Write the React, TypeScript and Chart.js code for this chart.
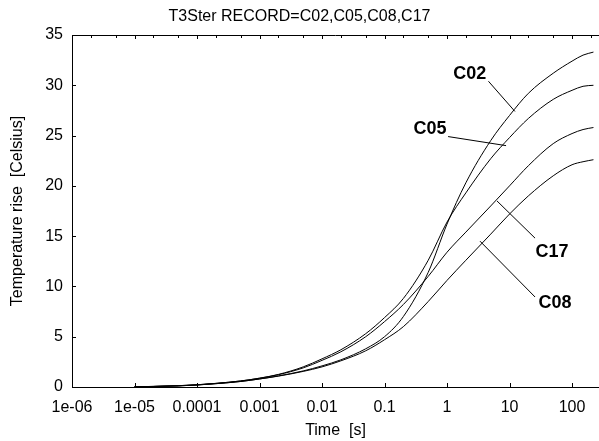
import React, { useEffect, useRef } from "react";
import { Chart, registerables } from "chart.js";

Chart.register(...registerables);

const FONT = '"Liberation Sans", Arial, sans-serif';

const times = [
  1e-5, 2e-5, 5e-5, 1e-4, 2e-4, 5e-4, 1e-3, 2e-3, 5e-3, 0.01, 0.02, 0.05,
  0.1, 0.2, 0.5, 1, 2, 5, 10, 20, 50, 100, 150, 220,
];

const c02 = [
  0.02, 0.05, 0.11, 0.2, 0.33, 0.55, 0.8, 1.1, 1.6, 2.1, 2.7, 3.8,
  5.0, 7.0, 11.4, 16.2, 20.3, 24.5, 27.0, 29.2, 31.2, 32.4, 33.0, 33.3,
];
const c05 = [
  0.02, 0.06, 0.13, 0.22, 0.36, 0.6, 0.88, 1.25, 2.0, 2.8, 3.7, 5.3,
  6.9, 8.8, 12.6, 16.4, 19.3, 22.7, 24.8, 26.7, 28.6, 29.5, 29.9, 30.0,
];
const c17 = [
  0.02, 0.06, 0.13, 0.22, 0.36, 0.6, 0.87, 1.22, 1.9, 2.65, 3.5, 5.0,
  6.5, 8.2, 11.0, 13.4, 15.4, 18.0, 20.0, 22.0, 24.2, 25.2, 25.6, 25.8,
];
const c08 = [
  0.02, 0.05, 0.11, 0.2, 0.33, 0.55, 0.8, 1.08, 1.55, 2.0, 2.6, 3.6,
  4.7, 6.0, 8.5, 10.6, 12.6, 15.2, 17.2, 19.0, 21.0, 22.1, 22.4, 22.6,
];

const seriesNames = ["C02", "C05", "C17", "C08"];
const seriesValues = [c02, c05, c17, c08];

const xTickValues = [1e-6, 1e-5, 1e-4, 1e-3, 1e-2, 0.1, 1, 10, 100];
const xTickLabels = ["1e-06", "1e-05", "0.0001", "0.001", "0.01", "0.1", "1", "10", "100"];
const xMinorMultipliers = [2, 5];
const yTickValues = [0, 5, 10, 15, 20, 25, 30, 35];

const X_MIN = 1e-6;
const X_MAX = 270;

// callout labels: label position, leader start, leader end (data coords: [time, temp])
const calloutNames = ["C02", "C05", "C17", "C08"];
const calloutAt = [[2.3, 31.1], [0.535, 25.7], [47.9, 13.4], [53.5, 8.35]];
const calloutFrom = [[4.6, 30.4], [1.04, 24.9], [25.6, 14.8], [25.6, 8.95]];
const calloutTo = [[12.2, 27.4], [8.8, 24.0], [6.3, 18.5], [3.37, 14.5]];

const TITLE = "T3Ster RECORD=C02,C05,C08,C17";
const X_TITLE = "Time  [s]";
const Y_TITLE = "Temperature rise  [Celsius]";

const decorPlugin = {
  id: "decor",
  afterDraw(chart: any) {
    const { ctx, chartArea, scales } = chart;
    const { left, right, top, bottom } = chartArea;
    const x = scales.x;
    const y = scales.y;
    ctx.save();
    ctx.strokeStyle = "#000";
    ctx.lineWidth = 1;
    ctx.beginPath();
    ctx.moveTo(left, Math.round(top) + 0.5);
    ctx.lineTo(right, Math.round(top) + 0.5);
    xTickValues.forEach((v) => {
      const px = Math.round(x.getPixelForValue(v)) + 0.5;
      ctx.moveTo(px, bottom);
      ctx.lineTo(px, bottom - 4);
      ctx.moveTo(px, top);
      ctx.lineTo(px, top + 4);
      xMinorMultipliers.forEach((m) => {
        const mv = v * m;
        if (mv <= X_MAX) {
          const mx = Math.round(x.getPixelForValue(mv)) + 0.5;
          ctx.moveTo(mx, top);
          ctx.lineTo(mx, top + 3);
        }
      });
    });
    yTickValues.forEach((v) => {
      const py = Math.round(y.getPixelForValue(v)) + 0.5;
      ctx.moveTo(left, py);
      ctx.lineTo(left + 4, py);
    });
    ctx.stroke();

    ctx.beginPath();
    calloutNames.forEach((_, i) => {
      ctx.moveTo(x.getPixelForValue(calloutFrom[i][0]), y.getPixelForValue(calloutFrom[i][1]));
      ctx.lineTo(x.getPixelForValue(calloutTo[i][0]), y.getPixelForValue(calloutTo[i][1]));
    });
    ctx.stroke();
    ctx.fillStyle = "#000";
    ctx.font = `bold 18px ${FONT}`;
    ctx.textAlign = "center";
    ctx.textBaseline = "middle";
    calloutNames.forEach((name, i) => {
      ctx.fillText(name, x.getPixelForValue(calloutAt[i][0]), y.getPixelForValue(calloutAt[i][1]));
    });
    ctx.restore();
  },
};

export default function App() {
  const ref = useRef<HTMLCanvasElement | null>(null);

  useEffect(() => {
    if (!ref.current) return;
    const datasets = seriesNames.map((name, si) => ({
      label: name,
      data: times.map((t, i) => ({ x: t, y: seriesValues[si][i] })),
      borderColor: "#000",
      borderWidth: 1,
      pointRadius: 0,
      fill: false,
      cubicInterpolationMode: "monotone" as const,
    }));

    const axisGrid = {
      display: true,
      drawOnChartArea: false,
      drawTicks: false,
      color: "#000",
    };

    const chart = new Chart(ref.current, {
      type: "line",
      data: { datasets },
      plugins: [decorPlugin],
      options: {
        animation: false,
        responsive: false,
        devicePixelRatio: 1,
        layout: { padding: { left: 0, right: 0, top: 0, bottom: 0 } },
        plugins: {
          legend: { display: false },
          tooltip: { enabled: false },
          title: {
            display: true,
            text: TITLE,
            color: "#000",
            font: { family: FONT, size: 16, weight: "normal" },
            padding: { top: 7, bottom: 8.8 },
          },
        },
        scales: {
          x: {
            type: "logarithmic",
            min: X_MIN,
            max: X_MAX,
            afterBuildTicks: (s: any) => {
              s.ticks = xTickValues.map((v) => ({ value: v }));
            },
            afterFit: (s: any) => {
              s.height = 54;
            },
            ticks: {
              autoSkip: false,
              maxRotation: 0,
              minRotation: 0,
              padding: 11,
              color: "#000",
              font: { family: FONT, size: 16 },
              callback: (_v: any, i: number) => xTickLabels[i],
            },
            grid: axisGrid,
            border: { display: true, color: "#000", width: 1 },
            title: {
              display: true,
              text: X_TITLE,
              color: "#000",
              font: { family: FONT, size: 16 },
              padding: { top: 1, bottom: 1 },
            },
          },
          y: {
            type: "linear",
            min: 0,
            max: 35,
            afterBuildTicks: (s: any) => {
              s.ticks = yTickValues.map((v) => ({ value: v }));
            },
            afterFit: (s: any) => {
              s.width = 72;
            },
            ticks: {
              padding: 9,
              color: "#000",
              font: { family: FONT, size: 16 },
              callback: (v: any) => String(v),
            },
            grid: axisGrid,
            border: { display: true, color: "#000", width: 1 },
            title: {
              display: true,
              text: Y_TITLE,
              color: "#000",
              font: { family: FONT, size: 16 },
              padding: { top: 8, bottom: 0 },
            },
          },
        },
      },
    });
    return () => chart.destroy();
  }, []);

  return (
    <div style={{ position: "absolute", left: 0, top: 0, width: 599, height: 441, background: "#fff" }}>
      <canvas ref={ref} width={599} height={441} style={{ display: "block" }} />
    </div>
  );
}
